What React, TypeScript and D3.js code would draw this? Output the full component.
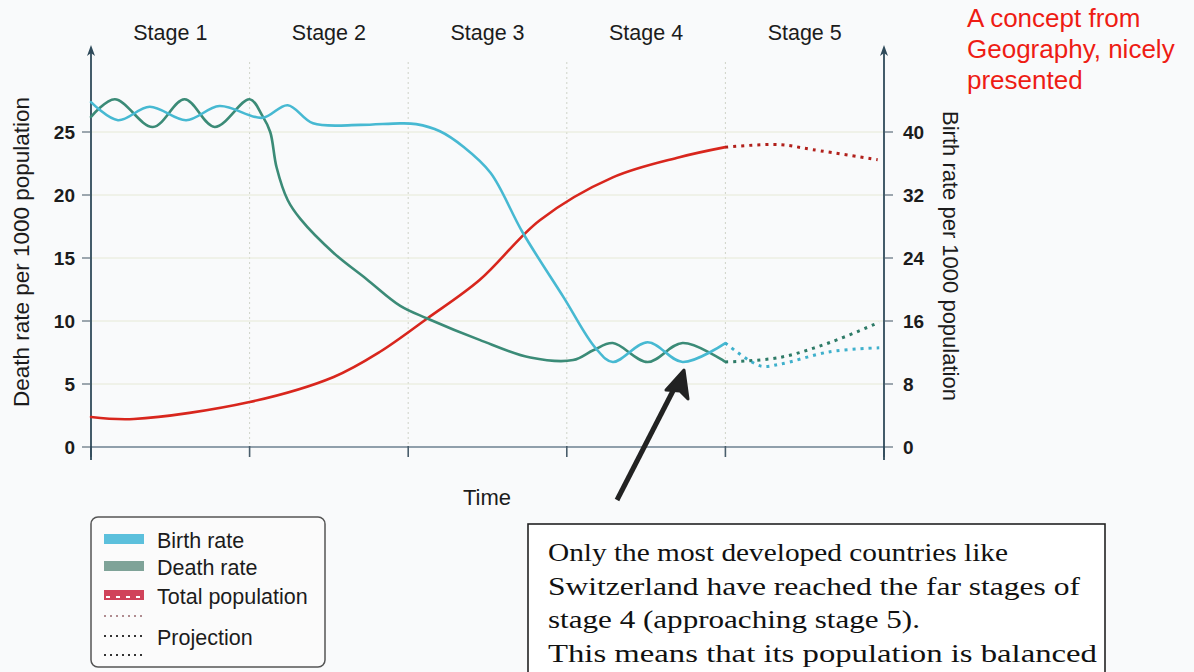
import { useEffect, useRef } from "react";
import * as d3 from "d3";

// stage labels, time runs 0..5 (one unit per stage)
const stages = ["Stage 1", "Stage 2", "Stage 3", "Stage 4", "Stage 5"];
const deathTicks = [0, 5, 10, 15, 20, 25];
const birthTicks = [0, 8, 16, 24, 32, 40];

// [time, death rate per 1000] (left axis)
const deathRate: [number, number][] = [
  [0, 26.2], [0.15, 27.6], [0.39, 25.4], [0.59, 27.6], [0.78, 25.4], [1.0, 27.6],
  [1.08, 26.3], [1.13, 25.0], [1.17, 22.2], [1.24, 19.6], [1.32, 18.1], [1.53, 15.4],
  [1.74, 13.3], [1.95, 11.2], [2.12, 10.2], [2.45, 8.5], [2.77, 7.1], [3.04, 6.9],
  [3.17, 7.7], [3.29, 8.25], [3.51, 6.75], [3.73, 8.25], [4.0, 6.75],
];
const deathProjection: [number, number][] = [
  [4.0, 6.75], [4.34, 7.1], [4.66, 8.3], [4.97, 9.9],
];

// [time, birth rate per 1000] (right axis)
const birthRate: [number, number][] = [
  [0, 43.8], [0.17, 41.5], [0.37, 43.2], [0.6, 41.5], [0.81, 43.3], [1.08, 41.8],
  [1.24, 43.4], [1.4, 41.1], [1.7, 40.9], [1.95, 41.1], [2.05, 41.0], [2.2, 40.1],
  [2.35, 38.1], [2.52, 34.8], [2.72, 27.3], [2.98, 19.0], [3.18, 12.6],
  [3.29, 10.8], [3.51, 13.3], [3.73, 10.8], [4.0, 13.2],
];
const birthProjection: [number, number][] = [
  [4.0, 13.2], [4.22, 10.3], [4.34, 10.5], [4.66, 12.1], [4.97, 12.6],
];

// [time, total population] (relative, left scale)
const totalPopulation: [number, number][] = [
  [0, 2.38], [0.27, 2.22], [1.0, 3.57], [1.53, 5.56], [1.82, 7.54], [2.12, 10.2],
  [2.45, 13.25], [2.83, 18.0], [3.29, 21.4], [3.71, 23.0], [4.0, 23.8],
];
const populationProjection: [number, number][] = [
  [4.0, 23.8], [4.34, 24.0], [4.55, 23.6], [4.96, 22.8],
];

const noteLines = [
  "Only the most developed countries like",
  "Switzerland have reached the far stages of",
  "stage 4 (approaching stage 5).",
  "This means that its population is balanced",
];
const noteWidths = [460, 532, 372, 549];
const captionLines = ["A concept from", "Geography, nicely", "presented"];

const BIRTH = "#47b9d2";
const DEATH = "#3b8b77";
const POP = "#d8261d";

export default function App() {
  const svgRef = useRef(null);

  useEffect(() => {
    const width = 1194;
    const height = 672;
    const svg = d3.select(svgRef.current);
    svg.selectAll("*").remove();
    svg.attr("width", width).attr("height", height);

    const font = "Liberation Sans, Arial, sans-serif";

    svg.append("rect").attr("width", width).attr("height", height).attr("fill", "#f9fafb");

    const x = d3.scaleLinear().domain([0, 5]).range([91, 884]);
    const yL = d3.scaleLinear().domain([0, 25]).range([447, 132]);
    const yR = d3.scaleLinear().domain([0, 40]).range([447, 132]);

    // faint grid
    svg.append("g")
      .selectAll("line")
      .data(d3.range(1, 5))
      .join("line")
      .attr("x1", d => x(d)).attr("x2", d => x(d))
      .attr("y1", 62).attr("y2", 447)
      .attr("stroke", "#cfd3c8").attr("stroke-width", 1)
      .attr("stroke-dasharray", "2,3");
    svg.append("g")
      .selectAll("line")
      .data(deathTicks.slice(1))
      .join("line")
      .attr("x1", 91).attr("x2", 884)
      .attr("y1", d => yL(d)).attr("y2", d => yL(d))
      .attr("stroke", "#e6e9d6").attr("stroke-width", 1);

    // x axis
    svg.append("line")
      .attr("x1", 91).attr("x2", 884).attr("y1", 447).attr("y2", 447)
      .attr("stroke", "#6d8190").attr("stroke-width", 1.6);
    svg.append("g")
      .selectAll("line")
      .data(d3.range(0, 6))
      .join("line")
      .attr("x1", d => x(d)).attr("x2", d => x(d))
      .attr("y1", 446).attr("y2", 457)
      .attr("stroke", "#4a5e6c").attr("stroke-width", 1.6);

    // y axes with arrows
    const axisColor = "#2f4a5a";
    [91, 884].forEach(ax => {
      svg.append("line")
        .attr("x1", ax).attr("x2", ax).attr("y1", 50).attr("y2", 460)
        .attr("stroke", axisColor).attr("stroke-width", 1.8);
      svg.append("path")
        .attr("d", `M${ax - 4},56 L${ax},45 L${ax + 4},56 L${ax},53 Z`)
        .attr("fill", axisColor);
    });

    const left = svg.append("g");
    left.selectAll("line")
      .data(deathTicks)
      .join("line")
      .attr("x1", 82).attr("x2", 90)
      .attr("y1", d => yL(d)).attr("y2", d => yL(d))
      .attr("stroke", "#7d8a94").attr("stroke-width", 1.5);
    left.selectAll("text")
      .data(deathTicks)
      .join("text")
      .attr("x", 75).attr("y", d => yL(d) + 7)
      .attr("text-anchor", "end")
      .attr("font-family", font).attr("font-weight", "bold").attr("font-size", 19)
      .attr("fill", "#1c1c1c")
      .text(d => d);

    const right = svg.append("g");
    right.selectAll("line")
      .data(birthTicks)
      .join("line")
      .attr("x1", 885).attr("x2", 893)
      .attr("y1", d => yR(d)).attr("y2", d => yR(d))
      .attr("stroke", "#7d8a94").attr("stroke-width", 1.5);
    right.selectAll("text")
      .data(birthTicks)
      .join("text")
      .attr("x", 903).attr("y", d => yR(d) + 7)
      .attr("font-family", font).attr("font-weight", "bold").attr("font-size", 19)
      .attr("fill", "#1c1c1c")
      .text(d => d);

    // axis titles
    svg.append("text")
      .attr("transform", "translate(29,252) rotate(-90)")
      .attr("text-anchor", "middle")
      .attr("font-family", font).attr("font-size", 22.5).attr("fill", "#1c1c1c")
      .text("Death rate per 1000 population");
    svg.append("text")
      .attr("transform", "translate(943,256) rotate(90)")
      .attr("text-anchor", "middle")
      .attr("font-family", font).attr("font-size", 22).attr("fill", "#1c1c1c")
      .text("Birth rate per 1000 population");
    svg.append("text")
      .attr("x", 487).attr("y", 505)
      .attr("text-anchor", "middle")
      .attr("font-family", font).attr("font-size", 22).attr("fill", "#1c1c1c")
      .text("Time");

    // stage labels
    svg.append("g")
      .selectAll("text")
      .data(stages)
      .join("text")
      .attr("x", (_, i) => x(i + 0.5)).attr("y", 40)
      .attr("text-anchor", "middle")
      .attr("font-family", font).attr("font-size", 21.5).attr("fill", "#1c1c1c")
      .text(d => d);

    const lineL = d3.line<[number, number]>()
      .x(d => x(d[0])).y(d => yL(d[1]))
      .curve(d3.curveCatmullRom.alpha(0.5));
    const lineR = d3.line<[number, number]>()
      .x(d => x(d[0])).y(d => yR(d[1]))
      .curve(d3.curveCatmullRom.alpha(0.5));

    const solid = (data, gen, color) =>
      svg.append("path").datum(data)
        .attr("fill", "none").attr("stroke", color)
        .attr("stroke-width", 2.6).attr("stroke-linecap", "round")
        .attr("d", gen as any);
    const dotted = (data, gen, color) =>
      svg.append("path").datum(data)
        .attr("fill", "none").attr("stroke", color)
        .attr("stroke-width", 3).attr("stroke-dasharray", "3,5")
        .attr("d", gen as any);

    solid(totalPopulation, lineL, POP);
    dotted(populationProjection, lineL, "#b1201b");
    solid(deathRate, lineL, DEATH);
    dotted(deathProjection, lineL, "#2e7b67");
    solid(birthRate, lineR, BIRTH);
    dotted(birthProjection, lineR, "#3fb0cc");

    // pointer arrow
    svg.append("line")
      .attr("x1", 617).attr("y1", 500).attr("x2", 676).attr("y2", 385)
      .attr("stroke", "#222").attr("stroke-width", 5);
    svg.append("path")
      .attr("d", "M684,370 L688,399 L680,391 L666,390 Z")
      .attr("fill", "#222").attr("stroke", "#222").attr("stroke-width", 3)
      .attr("stroke-linejoin", "round");

    // legend
    const lg = svg.append("g");
    lg.append("rect")
      .attr("x", 91).attr("y", 517).attr("width", 234).attr("height", 150)
      .attr("rx", 7).attr("fill", "#fbfbfb")
      .attr("stroke", "#555").attr("stroke-width", 1.5);
    const legendItems = [
      { label: "Birth rate", color: "#5cc0dc", y: 540 },
      { label: "Death rate", color: "#7fa398", y: 567 },
      { label: "Total population", color: "#d0435a", y: 596 },
    ];
    legendItems.forEach(it => {
      lg.append("rect")
        .attr("x", 104).attr("y", it.y - 6).attr("width", 40).attr("height", 10)
        .attr("fill", it.color);
      lg.append("text")
        .attr("x", 157).attr("y", it.y + 8)
        .attr("font-family", font).attr("font-size", 21.5).attr("fill", "#1c1c1c")
        .text(it.label);
    });
    lg.append("line")
      .attr("x1", 106).attr("x2", 142).attr("y1", 597).attr("y2", 597)
      .attr("stroke", "#fff").attr("stroke-width", 2).attr("stroke-dasharray", "4,6");
    [{ y: 616, c: "#b08c90" }, { y: 636, c: "#333" }, { y: 655, c: "#333" }].forEach(r => {
      lg.append("line")
        .attr("x1", 104).attr("x2", 144).attr("y1", r.y).attr("y2", r.y)
        .attr("stroke", r.c).attr("stroke-width", 2).attr("stroke-dasharray", "2,4");
    });
    lg.append("text")
      .attr("x", 157).attr("y", 645)
      .attr("font-family", font).attr("font-size", 21.5).attr("fill", "#1c1c1c")
      .text("Projection");

    // note box
    svg.append("rect")
      .attr("x", 528).attr("y", 524).attr("width", 577).attr("height", 160)
      .attr("fill", "#ffffff").attr("stroke", "#222").attr("stroke-width", 1.6);
    svg.append("g")
      .selectAll("text")
      .data(noteLines)
      .join("text")
      .attr("x", 548).attr("y", (_, i) => 561 + i * 33.5)
      .attr("font-family", "Liberation Serif, serif").attr("font-size", 25)
      .attr("fill", "#111")
      .attr("textLength", (_, i) => noteWidths[i])
      .attr("lengthAdjust", "spacingAndGlyphs")
      .text(d => d);

    // red caption
    svg.append("g")
      .selectAll("text")
      .data(captionLines)
      .join("text")
      .attr("x", 967).attr("y", (_, i) => 27 + i * 31)
      .attr("font-family", font).attr("font-size", 26)
      .attr("fill", "#ee1c14")
      .text(d => d);
  }, []);

  return (
    <div style={{ position: "absolute", left: 0, top: 0 }}>
      <svg ref={svgRef} style={{ display: "block" }}></svg>
    </div>
  );
}
